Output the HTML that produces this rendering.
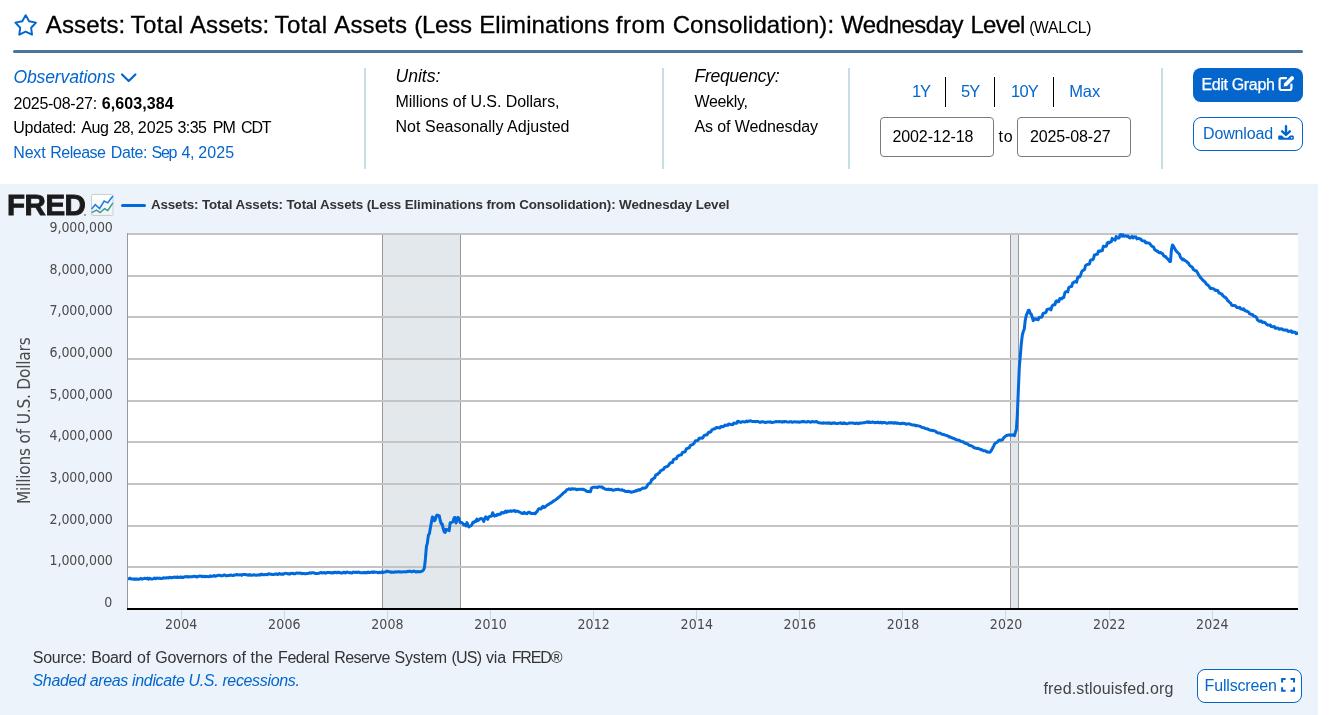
<!DOCTYPE html>
<html lang="en"><head><meta charset="utf-8"><title>Assets: Total Assets (WALCL) | FRED</title>
<style>
html,body{margin:0;padding:0;background:#fff;width:1344px;height:715px;overflow:hidden}
body{position:relative;font-family:"Liberation Sans",sans-serif}
.t{position:absolute;white-space:nowrap;margin:0;padding:0}
.abs{position:absolute}
.vd{position:absolute;top:68px;width:2px;height:101px;background:#c6dee4}
.bd{position:absolute;top:77px;width:1px;height:30px;background:#000}
.inp{position:absolute;top:117px;height:38px;width:112px;border:1px solid #7b7b7b;border-radius:4px;background:#fff}
#chartbg{position:absolute;left:0;top:184px;width:1318px;height:531px;background:#ecf3fb}
</style></head><body>
<svg class="abs" style="left:12.5px;top:12.8px" width="25.35" height="24.4" viewBox="0 0 26 25"><path d="M13.00 2.20 L16.47 8.53 L23.56 9.87 L18.61 15.12 L19.52 22.28 L13.00 19.20 L6.48 22.28 L7.39 15.12 L2.44 9.87 L9.53 8.53 Z" fill="none" stroke="#0466cc" stroke-width="2" stroke-linejoin="round"/></svg>
<div class="abs" style="left:13px;top:50px;width:1290px;height:3px;border-radius:1.5px;background:#4b7599"></div>
<svg class="abs" style="left:120.3px;top:71.5px" width="18" height="12" viewBox="0 0 18 12"><path d="M2 2.5 L8.7 9 L15.4 2.5" fill="none" stroke="#0466cc" stroke-width="2.2" stroke-linecap="round" stroke-linejoin="round"/></svg>
<div class="vd" style="left:364px"></div>
<div class="vd" style="left:662px"></div>
<div class="vd" style="left:848px"></div>
<div class="vd" style="left:1161px"></div>
<div class="bd" style="left:945px"></div>
<div class="bd" style="left:994px"></div>
<div class="bd" style="left:1053px"></div>
<div class="inp" style="left:880px"></div>
<div class="inp" style="left:1017px"></div>
<div class="abs" style="left:1193px;top:68px;width:110px;height:34px;border-radius:8px;background:#0466cc"></div>
<div class="abs" style="left:1193px;top:117px;width:108px;height:32px;border-radius:8px;border:1px solid #0466cc;background:#fff"></div>
<svg class="abs" style="left:1278px;top:75px" width="18" height="17" viewBox="0 0 18 17"><path d="M8 3.2 H3.6 Q1.6 3.2 1.6 5.2 V13 Q1.6 15 3.6 15 H11.4 Q13.4 15 13.4 13 V9.5" fill="none" stroke="#fff" stroke-width="2.2" stroke-linecap="round"/><path d="M6.3 8.2 L12.9 1.6 Q14 0.6 15.1 1.6 L15.6 2.1 Q16.6 3.2 15.6 4.3 L9 10.9 L5.6 11.6 Z" fill="#fff"/></svg>
<svg class="abs" style="left:1277px;top:125px" width="18" height="16" viewBox="0 0 18 16"><path d="M9 1.2 V9.5 M5.2 6.3 L9 10 L12.8 6.3" fill="none" stroke="#0466cc" stroke-width="2.4" stroke-linecap="round" stroke-linejoin="round"/><path d="M2.2 10.6 H5 L7.2 12.8 H10.8 L13 10.6 H15.8 Q16.8 10.6 16.8 11.6 V13.8 Q16.8 14.8 15.8 14.8 H2.2 Q1.2 14.8 1.2 13.8 V11.6 Q1.2 10.6 2.2 10.6 Z" fill="#0466cc"/><circle cx="14.6" cy="12.8" r="0.8" fill="#fff"/></svg>
<div id="chartbg"></div>
<div class="abs" style="left:83.6px;top:213.6px;width:2px;height:2px;border-radius:1px;background:#8a8a8a"></div>
<svg id="chart" width="1318" height="531" viewBox="0 184 1318 531" style="position:absolute;left:0;top:184px">
<rect x="128" y="234" width="1170" height="375" fill="#fff"/>
<rect x="383" y="234" width="77" height="375" fill="#e3e8ed"/>
<rect x="382" y="234" width="1" height="375" fill="#999"/>
<rect x="460" y="234" width="1" height="375" fill="#999"/>
<rect x="1011" y="234" width="7" height="375" fill="#e3e8ed"/>
<rect x="1010" y="234" width="1" height="375" fill="#999"/>
<rect x="1018" y="234" width="1" height="375" fill="#999"/>
<rect x="128" y="566" width="1170" height="2" fill="#c4c4c4"/>
<rect x="128" y="525" width="1170" height="2" fill="#c4c4c4"/>
<rect x="128" y="483" width="1170" height="2" fill="#c4c4c4"/>
<rect x="128" y="441" width="1170" height="2" fill="#c4c4c4"/>
<rect x="128" y="400" width="1170" height="2" fill="#c4c4c4"/>
<rect x="128" y="358" width="1170" height="2" fill="#c4c4c4"/>
<rect x="128" y="316" width="1170" height="2" fill="#c4c4c4"/>
<rect x="128" y="275" width="1170" height="2" fill="#c4c4c4"/>
<rect x="128" y="233" width="1170" height="2" fill="#c4c4c4"/>
<rect x="127" y="233" width="1" height="377" fill="#999"/>
<rect x="181" y="610" width="1" height="10" fill="#ccd6eb"/>
<rect x="284" y="610" width="1" height="10" fill="#ccd6eb"/>
<rect x="387" y="610" width="1" height="10" fill="#ccd6eb"/>
<rect x="490" y="610" width="1" height="10" fill="#ccd6eb"/>
<rect x="593" y="610" width="1" height="10" fill="#ccd6eb"/>
<rect x="696" y="610" width="1" height="10" fill="#ccd6eb"/>
<rect x="799" y="610" width="1" height="10" fill="#ccd6eb"/>
<rect x="902" y="610" width="1" height="10" fill="#ccd6eb"/>
<rect x="1005" y="610" width="1" height="10" fill="#ccd6eb"/>
<rect x="1109" y="610" width="1" height="10" fill="#ccd6eb"/>
<rect x="1212" y="610" width="1" height="10" fill="#ccd6eb"/>
<clipPath id="pc"><rect x="128" y="230" width="1170" height="380"/></clipPath>
<path clip-path="url(#pc)" d="M128.00 578.86 L128.99 578.84 L129.98 578.09 L130.96 579.05 L131.95 578.88 L132.94 579.04 L133.93 579.36 L134.92 578.85 L135.91 579.34 L136.89 578.89 L137.88 579.27 L138.87 579.23 L139.86 578.85 L140.85 578.39 L141.83 579.13 L142.82 579.01 L143.81 578.55 L144.80 578.18 L145.79 578.56 L146.78 578.74 L147.76 578.09 L148.75 579.08 L149.74 578.18 L150.73 578.78 L151.72 578.91 L152.70 578.89 L153.69 578.64 L154.68 578.04 L155.67 578.68 L156.66 578.20 L157.65 578.09 L158.63 578.34 L159.62 578.10 L160.61 578.58 L161.60 578.54 L162.59 578.33 L163.57 577.77 L164.56 578.00 L165.55 578.07 L166.54 577.73 L167.53 577.83 L168.52 577.95 L169.50 577.37 L170.49 577.43 L171.48 577.87 L172.47 577.47 L173.46 577.48 L174.44 577.05 L175.43 577.16 L176.42 577.59 L177.41 576.80 L178.40 577.68 L179.39 577.31 L180.37 576.90 L181.36 577.51 L182.35 577.11 L183.34 577.56 L184.33 576.85 L185.31 576.71 L186.30 576.88 L187.29 576.52 L188.28 577.10 L189.27 576.65 L190.26 576.72 L191.24 576.71 L192.23 576.81 L193.22 576.36 L194.21 576.21 L195.20 576.69 L196.18 576.45 L197.17 577.07 L198.16 576.34 L199.15 576.36 L200.14 575.96 L201.12 576.11 L202.11 576.66 L203.10 576.51 L204.09 576.17 L205.08 576.84 L206.07 576.33 L207.05 576.61 L208.04 576.63 L209.03 576.64 L210.02 575.83 L211.01 576.47 L211.99 576.30 L212.98 576.10 L213.97 575.53 L214.96 576.34 L215.95 575.90 L216.94 575.74 L217.92 575.34 L218.91 575.36 L219.90 575.26 L220.89 575.85 L221.88 575.66 L222.86 575.67 L223.85 575.06 L224.84 574.93 L225.83 575.76 L226.82 575.69 L227.81 575.58 L228.79 575.53 L229.78 575.22 L230.77 575.06 L231.76 575.36 L232.75 575.60 L233.73 575.12 L234.72 575.16 L235.71 574.92 L236.70 574.49 L237.69 574.75 L238.68 574.93 L239.66 574.80 L240.65 574.72 L241.64 575.37 L242.63 574.44 L243.62 574.55 L244.60 574.43 L245.59 574.50 L246.58 574.92 L247.57 574.89 L248.56 575.20 L249.55 574.60 L250.53 575.20 L251.52 575.18 L252.51 575.01 L253.50 575.04 L254.49 574.83 L255.47 575.13 L256.46 575.17 L257.45 574.98 L258.44 575.02 L259.43 574.71 L260.42 575.05 L261.40 574.10 L262.39 574.35 L263.38 574.82 L264.37 574.68 L265.36 574.55 L266.34 574.50 L267.33 574.73 L268.32 573.91 L269.31 573.73 L270.30 574.27 L271.29 574.22 L272.27 574.62 L273.26 574.57 L274.25 574.28 L275.24 574.33 L276.23 573.69 L277.21 574.39 L278.20 574.51 L279.19 573.47 L280.18 573.90 L281.17 574.28 L282.16 573.82 L283.14 574.35 L284.13 573.78 L285.12 573.26 L286.11 573.37 L287.10 573.53 L288.08 573.98 L289.07 573.84 L290.06 574.04 L291.05 573.36 L292.04 573.60 L293.03 573.31 L294.01 573.78 L295.00 573.87 L295.99 573.21 L296.98 573.01 L297.97 573.13 L298.95 573.16 L299.94 573.12 L300.93 573.19 L301.92 573.72 L302.91 573.39 L303.90 573.54 L304.88 573.87 L305.87 573.85 L306.86 573.56 L307.85 573.56 L308.84 573.07 L309.82 572.76 L310.81 573.29 L311.80 572.74 L312.79 572.66 L313.78 572.67 L314.77 573.29 L315.75 573.42 L316.74 573.39 L317.73 573.40 L318.72 573.37 L319.71 572.89 L320.69 572.56 L321.68 572.61 L322.67 572.97 L323.66 572.76 L324.65 572.58 L325.64 573.33 L326.62 572.68 L327.61 572.39 L328.60 572.50 L329.59 572.51 L330.58 572.78 L331.56 573.09 L332.55 572.40 L333.54 572.87 L334.53 572.34 L335.52 572.13 L336.51 572.74 L337.49 572.73 L338.48 572.13 L339.47 572.37 L340.46 572.96 L341.45 573.00 L342.43 572.97 L343.42 572.15 L344.41 572.25 L345.40 572.96 L346.39 572.22 L347.38 572.05 L348.36 572.40 L349.35 572.72 L350.34 572.50 L351.33 572.95 L352.32 573.07 L353.30 572.03 L354.29 572.37 L355.28 572.50 L356.27 572.06 L357.26 572.59 L358.24 572.11 L359.23 572.16 L360.22 572.82 L361.21 572.77 L362.20 572.72 L363.19 572.76 L364.17 572.37 L365.16 572.71 L366.15 572.52 L367.14 572.82 L368.13 571.96 L369.11 572.54 L370.10 572.42 L371.09 572.26 L372.08 571.90 L373.07 572.41 L374.06 571.86 L375.04 572.29 L376.03 572.24 L377.02 572.24 L378.01 572.77 L379.00 572.30 L379.98 572.56 L380.97 572.74 L381.96 571.86 L382.95 572.53 L383.94 572.18 L384.93 571.90 L385.91 572.06 L386.90 571.06 L387.89 571.38 L388.88 571.86 L389.87 571.64 L390.85 572.40 L391.84 571.94 L392.83 572.30 L393.82 572.30 L394.81 571.79 L395.80 572.10 L396.78 572.04 L397.77 571.79 L398.76 571.60 L399.75 572.07 L400.74 571.86 L401.72 571.94 L402.71 571.90 L403.70 571.68 L404.69 571.90 L405.68 571.79 L406.67 571.81 L407.65 571.28 L408.64 571.51 L409.63 571.29 L410.62 571.18 L411.61 571.89 L412.59 571.54 L413.58 571.09 L414.57 571.17 L415.56 571.90 L416.55 571.89 L417.54 571.51 L418.52 571.88 L419.51 571.67 L420.50 571.82 L421.49 571.14 L422.48 570.98 L423.46 570.03 L424.45 567.67 L425.44 558.48 L426.43 546.42 L427.42 542.93 L428.41 535.06 L429.39 533.77 L430.38 527.89 L431.37 522.52 L432.36 516.97 L433.35 517.76 L434.33 520.84 L435.32 519.67 L436.31 515.84 L437.30 515.03 L438.29 516.08 L439.28 515.75 L440.26 520.82 L441.25 523.67 L442.24 523.89 L443.23 528.82 L444.22 531.89 L445.20 532.36 L446.19 529.24 L447.18 529.92 L448.17 529.77 L449.16 530.66 L450.15 522.97 L451.13 522.51 L452.12 522.19 L453.11 521.68 L454.10 517.95 L455.09 517.45 L456.07 522.98 L457.06 518.86 L458.05 517.45 L459.04 518.77 L460.03 522.37 L461.02 522.13 L462.00 522.80 L462.99 523.61 L463.98 525.06 L464.97 524.48 L465.96 525.95 L466.94 522.59 L467.93 525.17 L468.92 526.89 L469.91 526.15 L470.90 525.80 L471.89 524.78 L472.87 522.36 L473.86 522.50 L474.85 521.36 L475.84 521.43 L476.83 519.18 L477.81 520.63 L478.80 520.00 L479.79 519.08 L480.78 518.46 L481.77 518.90 L482.76 519.05 L483.74 521.51 L484.73 518.43 L485.72 516.87 L486.71 518.23 L487.70 519.30 L488.68 517.12 L489.67 516.49 L490.66 516.34 L491.65 516.01 L492.64 512.69 L493.62 514.77 L494.61 516.05 L495.60 515.25 L496.59 515.42 L497.58 514.28 L498.57 514.68 L499.55 513.99 L500.54 514.16 L501.53 512.58 L502.52 512.66 L503.51 513.06 L504.49 512.28 L505.48 511.17 L506.47 512.43 L507.46 511.02 L508.45 511.62 L509.44 511.40 L510.42 510.68 L511.41 511.38 L512.40 511.07 L513.39 510.84 L514.38 510.41 L515.36 511.68 L516.35 510.89 L517.34 511.23 L518.33 511.46 L519.32 512.09 L520.31 512.40 L521.29 513.15 L522.28 513.22 L523.27 513.54 L524.26 512.34 L525.25 513.27 L526.23 513.47 L527.22 513.65 L528.21 512.30 L529.20 512.28 L530.19 512.68 L531.18 513.43 L532.16 513.54 L533.15 513.48 L534.14 513.21 L535.13 513.79 L536.12 512.33 L537.10 511.73 L538.09 509.51 L539.08 508.55 L540.07 508.91 L541.06 509.05 L542.05 507.31 L543.03 506.27 L544.02 507.48 L545.01 507.16 L546.00 506.10 L546.99 505.33 L547.97 504.63 L548.96 504.25 L549.95 503.27 L550.94 503.09 L551.93 502.16 L552.92 501.66 L553.90 500.67 L554.89 500.35 L555.88 499.70 L556.87 498.74 L557.86 498.13 L558.84 497.10 L559.83 496.48 L560.82 495.39 L561.81 494.57 L562.80 493.60 L563.79 492.52 L564.77 492.10 L565.76 491.26 L566.75 489.69 L567.74 489.61 L568.73 488.80 L569.71 488.93 L570.70 489.57 L571.69 488.82 L572.68 488.80 L573.67 489.10 L574.66 489.04 L575.64 489.00 L576.63 489.71 L577.62 489.37 L578.61 489.43 L579.60 489.14 L580.58 489.21 L581.57 489.23 L582.56 489.51 L583.55 489.35 L584.54 489.97 L585.53 490.37 L586.51 491.24 L587.50 491.62 L588.49 491.60 L589.48 491.47 L590.47 491.81 L591.45 488.03 L592.44 487.40 L593.43 487.28 L594.42 487.23 L595.41 487.12 L596.40 487.26 L597.38 487.70 L598.37 486.85 L599.36 486.85 L600.35 487.04 L601.34 486.95 L602.32 487.08 L603.31 488.34 L604.30 488.32 L605.29 489.11 L606.28 489.44 L607.27 489.41 L608.25 489.10 L609.24 489.78 L610.23 489.40 L611.22 489.31 L612.21 489.95 L613.19 490.22 L614.18 490.09 L615.17 489.71 L616.16 489.45 L617.15 489.42 L618.14 489.22 L619.12 489.67 L620.11 489.86 L621.10 490.02 L622.09 489.79 L623.08 490.49 L624.06 490.49 L625.05 491.31 L626.04 491.52 L627.03 491.51 L628.02 491.30 L629.01 491.47 L629.99 491.68 L630.98 492.25 L631.97 491.95 L632.96 491.74 L633.95 491.47 L634.93 491.55 L635.92 490.50 L636.91 490.93 L637.90 489.88 L638.89 489.62 L639.88 490.17 L640.86 489.35 L641.85 488.62 L642.84 488.10 L643.83 488.24 L644.82 488.05 L645.80 487.81 L646.79 486.58 L647.78 484.62 L648.77 483.66 L649.76 483.30 L650.74 482.30 L651.73 479.46 L652.72 479.40 L653.71 478.20 L654.70 477.90 L655.69 475.10 L656.67 474.55 L657.66 474.23 L658.65 473.01 L659.64 472.64 L660.63 470.67 L661.61 470.36 L662.60 469.70 L663.59 469.40 L664.58 467.36 L665.57 467.15 L666.56 466.68 L667.54 466.29 L668.53 465.46 L669.52 463.82 L670.51 462.83 L671.50 462.35 L672.48 462.46 L673.47 459.59 L674.46 459.31 L675.45 458.74 L676.44 458.73 L677.43 456.40 L678.41 455.97 L679.40 455.13 L680.39 455.01 L681.38 454.79 L682.37 452.52 L683.35 452.24 L684.34 452.05 L685.33 451.60 L686.32 448.77 L687.31 448.73 L688.30 447.79 L689.28 447.82 L690.27 445.53 L691.26 444.90 L692.25 444.69 L693.24 444.13 L694.22 443.24 L695.21 441.01 L696.20 440.72 L697.19 440.62 L698.18 440.21 L699.17 438.15 L700.15 438.24 L701.14 437.91 L702.13 438.18 L703.12 437.43 L704.11 435.51 L705.09 434.99 L706.08 434.91 L707.07 434.88 L708.06 432.93 L709.05 431.97 L710.04 432.23 L711.02 431.68 L712.01 429.64 L713.00 429.38 L713.99 428.92 L714.98 428.87 L715.96 427.67 L716.95 427.48 L717.94 427.84 L718.93 427.72 L719.92 427.94 L720.91 426.39 L721.89 426.58 L722.88 426.75 L723.87 426.41 L724.86 425.06 L725.85 425.45 L726.83 425.12 L727.82 425.19 L728.81 423.95 L729.80 424.36 L730.79 424.47 L731.78 424.65 L732.76 424.61 L733.75 423.11 L734.74 423.14 L735.73 423.29 L736.72 423.20 L737.70 421.28 L738.69 421.55 L739.68 422.14 L740.67 422.43 L741.66 421.83 L742.65 421.86 L743.63 421.80 L744.62 421.95 L745.61 421.68 L746.60 421.01 L747.59 421.63 L748.57 421.22 L749.56 421.03 L750.55 420.75 L751.54 421.30 L752.53 421.40 L753.52 421.56 L754.50 421.58 L755.49 421.69 L756.48 421.41 L757.47 421.54 L758.46 421.57 L759.44 422.32 L760.43 422.35 L761.42 421.83 L762.41 421.72 L763.40 422.12 L764.39 422.06 L765.37 422.60 L766.36 422.31 L767.35 421.91 L768.34 422.04 L769.33 422.01 L770.31 421.86 L771.30 422.40 L772.29 422.46 L773.28 422.37 L774.27 422.00 L775.26 421.81 L776.24 421.54 L777.23 421.66 L778.22 421.67 L779.21 421.51 L780.20 421.75 L781.18 421.68 L782.17 422.12 L783.16 421.51 L784.15 421.98 L785.14 421.41 L786.12 421.65 L787.11 421.95 L788.10 422.11 L789.09 422.01 L790.08 421.70 L791.07 421.66 L792.05 422.16 L793.04 422.20 L794.03 421.84 L795.02 421.80 L796.01 421.97 L796.99 422.12 L797.98 421.81 L798.97 422.31 L799.96 422.08 L800.95 421.94 L801.94 421.51 L802.92 421.76 L803.91 421.54 L804.90 421.87 L805.89 422.06 L806.88 422.04 L807.86 421.43 L808.85 421.63 L809.84 421.95 L810.83 422.17 L811.82 421.76 L812.81 421.60 L813.79 421.80 L814.78 421.92 L815.77 421.57 L816.76 421.61 L817.75 422.44 L818.73 422.86 L819.72 422.86 L820.71 423.04 L821.70 422.94 L822.69 423.35 L823.68 422.86 L824.66 422.91 L825.65 423.11 L826.64 423.37 L827.63 422.74 L828.62 423.30 L829.60 422.88 L830.59 423.38 L831.58 423.40 L832.57 422.96 L833.56 423.35 L834.55 422.81 L835.53 423.20 L836.52 423.46 L837.51 423.44 L838.50 423.29 L839.49 423.09 L840.47 422.86 L841.46 423.54 L842.45 423.34 L843.44 423.50 L844.43 422.87 L845.42 423.57 L846.40 423.65 L847.39 423.65 L848.38 423.38 L849.37 422.97 L850.36 422.99 L851.34 423.12 L852.33 422.91 L853.32 422.97 L854.31 423.48 L855.30 423.61 L856.29 422.99 L857.27 423.16 L858.26 423.76 L859.25 423.12 L860.24 423.18 L861.23 423.01 L862.21 422.88 L863.20 422.84 L864.19 422.81 L865.18 422.41 L866.17 422.26 L867.16 421.79 L868.14 422.51 L869.13 421.84 L870.12 422.50 L871.11 422.40 L872.10 422.04 L873.08 422.07 L874.07 422.42 L875.06 422.77 L876.05 422.45 L877.04 422.56 L878.03 422.13 L879.01 422.77 L880.00 422.65 L880.99 422.24 L881.98 422.99 L882.97 422.70 L883.95 422.40 L884.94 422.46 L885.93 423.10 L886.92 423.13 L887.91 423.14 L888.90 422.45 L889.88 423.03 L890.87 422.65 L891.86 422.56 L892.85 423.05 L893.84 423.14 L894.82 422.62 L895.81 422.97 L896.80 423.34 L897.79 423.04 L898.78 423.44 L899.77 423.55 L900.75 423.85 L901.74 423.29 L902.73 423.23 L903.72 423.54 L904.71 423.35 L905.69 424.19 L906.68 424.09 L907.67 423.96 L908.66 423.65 L909.65 423.86 L910.64 424.55 L911.62 424.87 L912.61 424.93 L913.60 425.09 L914.59 424.94 L915.58 425.77 L916.56 425.47 L917.55 425.73 L918.54 425.87 L919.53 426.16 L920.52 426.61 L921.51 427.16 L922.49 427.49 L923.48 427.77 L924.47 427.74 L925.46 428.64 L926.45 428.86 L927.43 428.71 L928.42 429.45 L929.41 429.92 L930.40 430.27 L931.39 430.15 L932.38 430.66 L933.36 430.43 L934.35 430.87 L935.34 431.15 L936.33 432.12 L937.32 432.64 L938.30 433.00 L939.29 433.04 L940.28 433.23 L941.27 433.82 L942.26 434.36 L943.24 434.58 L944.23 434.78 L945.22 435.10 L946.21 435.41 L947.20 435.70 L948.19 436.22 L949.17 437.04 L950.16 436.82 L951.15 437.65 L952.14 437.79 L953.13 438.32 L954.11 438.39 L955.10 439.21 L956.09 439.55 L957.08 439.92 L958.07 440.37 L959.06 440.13 L960.04 440.76 L961.03 441.34 L962.02 441.66 L963.01 441.64 L964.00 442.53 L964.98 443.25 L965.97 443.26 L966.96 443.88 L967.95 444.09 L968.94 445.32 L969.93 445.51 L970.91 445.71 L971.90 446.18 L972.89 446.61 L973.88 447.67 L974.87 447.79 L975.85 448.27 L976.84 448.54 L977.83 448.21 L978.82 448.87 L979.81 448.91 L980.80 449.71 L981.78 449.62 L982.77 450.30 L983.76 450.79 L984.75 450.69 L985.74 450.88 L986.72 451.91 L987.71 451.83 L988.70 452.14 L989.69 452.19 L990.68 451.53 L991.67 449.88 L992.65 448.00 L993.64 446.08 L994.63 443.92 L995.62 443.00 L996.61 442.50 L997.59 441.78 L998.58 440.64 L999.57 440.06 L1000.56 440.28 L1001.55 439.98 L1002.54 439.87 L1003.52 438.10 L1004.51 437.03 L1005.50 436.16 L1006.49 435.54 L1007.48 435.21 L1008.46 435.00 L1009.45 434.87 L1010.44 435.28 L1011.43 435.17 L1012.42 434.67 L1013.41 435.33 L1014.39 435.67 L1015.38 432.33 L1016.37 429.42 L1017.36 414.42 L1018.35 390.25 L1019.33 366.92 L1020.32 355.67 L1021.31 343.58 L1022.30 335.25 L1023.29 331.50 L1024.28 329.00 L1025.26 320.25 L1026.25 315.67 L1027.24 313.17 L1028.23 310.46 L1029.22 310.25 L1030.20 313.38 L1031.19 314.00 L1032.18 316.92 L1033.17 320.67 L1034.16 319.00 L1035.15 318.79 L1036.13 319.46 L1037.12 319.03 L1038.11 319.84 L1039.10 317.55 L1040.09 317.34 L1041.07 317.33 L1042.06 316.95 L1043.05 313.47 L1044.04 313.08 L1045.03 312.78 L1046.02 312.32 L1047.00 309.58 L1047.99 309.10 L1048.98 308.89 L1049.97 308.79 L1050.96 309.84 L1051.94 306.41 L1052.93 305.06 L1053.92 304.66 L1054.91 304.83 L1055.90 301.26 L1056.89 300.73 L1057.87 301.85 L1058.86 301.53 L1059.85 298.55 L1060.84 298.67 L1061.83 298.83 L1062.81 297.42 L1063.80 297.46 L1064.79 292.97 L1065.78 291.84 L1066.77 291.64 L1067.76 291.88 L1068.74 287.67 L1069.73 286.94 L1070.72 286.60 L1071.71 286.47 L1072.70 282.90 L1073.68 282.55 L1074.67 281.78 L1075.66 281.40 L1076.65 282.19 L1077.64 277.69 L1078.62 276.82 L1079.61 276.94 L1080.60 275.36 L1081.59 271.88 L1082.58 270.67 L1083.57 270.14 L1084.55 269.50 L1085.54 265.62 L1086.53 264.89 L1087.52 264.47 L1088.51 264.36 L1089.49 263.85 L1090.48 260.21 L1091.47 259.84 L1092.46 259.87 L1093.45 258.79 L1094.44 254.90 L1095.42 254.81 L1096.41 254.26 L1097.40 254.35 L1098.39 251.12 L1099.38 251.51 L1100.36 250.87 L1101.35 250.92 L1102.34 250.59 L1103.33 246.27 L1104.32 246.66 L1105.31 246.29 L1106.29 246.20 L1107.28 243.07 L1108.27 242.29 L1109.26 242.86 L1110.25 241.95 L1111.23 241.81 L1112.22 238.38 L1113.21 239.50 L1114.20 239.49 L1115.19 240.22 L1116.18 236.47 L1117.16 238.01 L1118.15 238.05 L1119.14 237.94 L1120.13 234.63 L1121.12 234.59 L1122.10 236.12 L1123.09 234.73 L1124.08 236.30 L1125.07 235.95 L1126.06 235.94 L1127.05 236.38 L1128.03 235.93 L1129.02 237.47 L1130.01 238.01 L1131.00 237.27 L1131.99 236.42 L1132.97 237.90 L1133.96 236.83 L1134.95 237.22 L1135.94 236.82 L1136.93 238.92 L1137.92 238.66 L1138.90 238.37 L1139.89 238.96 L1140.88 239.02 L1141.87 240.61 L1142.86 240.82 L1143.84 241.10 L1144.83 241.12 L1145.82 242.96 L1146.81 242.59 L1147.80 242.91 L1148.79 242.90 L1149.77 243.53 L1150.76 244.94 L1151.75 246.11 L1152.74 246.60 L1153.73 247.25 L1154.71 249.83 L1155.70 250.22 L1156.69 251.16 L1157.68 251.01 L1158.67 252.37 L1159.66 252.78 L1160.64 252.59 L1161.63 253.26 L1162.62 253.82 L1163.61 255.61 L1164.60 256.48 L1165.58 256.55 L1166.57 257.95 L1167.56 258.85 L1168.55 259.75 L1169.54 261.50 L1170.53 261.42 L1171.51 249.04 L1172.50 245.08 L1173.49 246.25 L1174.48 248.15 L1175.47 250.04 L1176.45 251.20 L1177.44 252.40 L1178.43 253.16 L1179.42 254.22 L1180.41 257.16 L1181.40 258.45 L1182.38 259.69 L1183.37 259.01 L1184.36 260.17 L1185.35 260.79 L1186.34 261.20 L1187.32 262.38 L1188.31 263.00 L1189.30 264.82 L1190.29 265.92 L1191.28 266.66 L1192.27 267.12 L1193.25 269.41 L1194.24 269.94 L1195.23 270.72 L1196.22 270.65 L1197.21 272.19 L1198.19 274.14 L1199.18 275.56 L1200.17 277.23 L1201.16 278.06 L1202.15 279.54 L1203.14 280.60 L1204.12 281.29 L1205.11 282.09 L1206.10 283.90 L1207.09 284.50 L1208.08 285.32 L1209.06 286.31 L1210.05 288.07 L1211.04 288.50 L1212.03 288.33 L1213.02 288.67 L1214.01 288.92 L1214.99 290.24 L1215.98 290.47 L1216.97 290.24 L1217.96 290.83 L1218.95 293.00 L1219.93 292.98 L1220.92 293.98 L1221.91 294.01 L1222.90 295.94 L1223.89 296.47 L1224.88 297.39 L1225.86 297.74 L1226.85 299.05 L1227.84 300.90 L1228.83 301.38 L1229.82 302.63 L1230.80 303.33 L1231.79 305.21 L1232.78 305.42 L1233.77 305.47 L1234.76 305.53 L1235.74 306.10 L1236.73 307.51 L1237.72 307.59 L1238.71 307.83 L1239.70 307.35 L1240.69 308.92 L1241.67 308.97 L1242.66 309.45 L1243.65 308.92 L1244.64 310.41 L1245.63 310.93 L1246.61 311.08 L1247.60 311.63 L1248.59 312.11 L1249.58 313.89 L1250.57 314.08 L1251.56 314.47 L1252.54 314.56 L1253.53 315.98 L1254.52 316.30 L1255.51 316.48 L1256.50 317.39 L1257.48 319.91 L1258.47 320.51 L1259.46 321.39 L1260.45 321.01 L1261.44 321.06 L1262.43 322.52 L1263.41 322.14 L1264.40 322.19 L1265.39 322.92 L1266.38 324.13 L1267.37 324.95 L1268.35 324.98 L1269.34 325.22 L1270.33 325.07 L1271.32 326.55 L1272.31 326.66 L1273.30 326.81 L1274.28 326.42 L1275.27 328.22 L1276.26 328.30 L1277.25 327.90 L1278.24 328.10 L1279.22 329.29 L1280.21 329.13 L1281.20 328.74 L1282.19 328.88 L1283.18 330.03 L1284.17 330.10 L1285.15 329.96 L1286.14 330.24 L1287.13 330.03 L1288.12 331.38 L1289.11 331.38 L1290.09 331.26 L1291.08 330.81 L1292.07 332.49 L1293.06 331.82 L1294.05 332.23 L1295.04 332.22 L1296.02 333.62 L1297.01 333.11 L1298.00 333.53" fill="none" stroke="#0069dc" stroke-width="3" stroke-linejoin="round" stroke-linecap="round"/>
<rect x="127" y="608" width="1171" height="2" fill="#000"/>
</svg>
<svg class="abs" style="left:91px;top:194px" width="23" height="22" viewBox="0 0 23 22"><defs><linearGradient id="ig" x1="0" y1="0" x2="0" y2="1"><stop offset="0" stop-color="#fff"/><stop offset="1" stop-color="#f1f2f3"/></linearGradient></defs><rect x="0.5" y="0.5" width="21.5" height="21" rx="1.5" fill="url(#ig)" stroke="#c9ced3"/><path d="M0.7 15 L4.3 10.6 L8.6 14.5 L13.2 7 L16.8 8.8 L21.9 2" fill="none" stroke="#1e7be0" stroke-width="1.5"/><path d="M0.7 18.6 L5.5 16.2 L9.1 18.6 L13.5 14.75 L16.8 16.5 L21.9 8.8" fill="none" stroke="#3a9e96" stroke-width="1.5"/></svg>
<div class="abs" style="left:121px;top:204.3px;width:25px;height:3px;border-radius:1.5px;background:#0069dc"></div>
<div class="abs" style="left:1197px;top:669px;width:103px;height:32px;border-radius:8px;border:1px solid #0466cc;background:#fff"></div>
<svg class="abs" style="left:1281px;top:678px" width="14.2" height="13.8" viewBox="0 0 15 15"><path d="M1 5 V1.2 H4.8 M10.2 1.2 H14 V5 M14 10 V13.8 H10.2 M4.8 13.8 H1 V10" fill="none" stroke="#0466cc" stroke-width="2.2"/></svg>
<div class="t" id="ytitle" style="left:0;top:0;font:17.2px/20px 'DejaVu Sans Condensed','DejaVu Sans',sans-serif;color:#4a4a4a;transform-origin:0 0;transform:translate(14.3px,504px) rotate(-90deg);letter-spacing:-0.24px">Millions of U.S. Dollars</div>
<h1 style="margin:0;height:0;font-size:0">
<span id="title0" class="t" style="left:45.78px;top:8.38px;font:normal 400 24px/34px 'Liberation Sans', sans-serif;color:#000;letter-spacing:0.134px;-webkit-text-stroke:0.3px #000;">Assets:</span>
<span id="title1" class="t" style="left:130.48px;top:8.38px;font:normal 400 24px/34px 'Liberation Sans', sans-serif;color:#000;letter-spacing:0.467px;-webkit-text-stroke:0.3px #000;">Total</span>
<span id="title2" class="t" style="left:189.98px;top:8.38px;font:normal 400 24px/34px 'Liberation Sans', sans-serif;color:#000;letter-spacing:0.091px;-webkit-text-stroke:0.3px #000;">Assets:</span>
<span id="title3" class="t" style="left:274.48px;top:8.38px;font:normal 400 24px/34px 'Liberation Sans', sans-serif;color:#000;letter-spacing:0.507px;-webkit-text-stroke:0.3px #000;">Total</span>
<span id="title4" class="t" style="left:334.28px;top:8.38px;font:normal 400 24px/34px 'Liberation Sans', sans-serif;color:#000;letter-spacing:0.118px;-webkit-text-stroke:0.3px #000;">Assets</span>
<span id="title5" class="t" style="left:414.28px;top:8.38px;font:normal 400 24px/34px 'Liberation Sans', sans-serif;color:#000;letter-spacing:-0.250px;-webkit-text-stroke:0.3px #000;">(Less</span>
<span id="title6" class="t" style="left:479.28px;top:8.38px;font:normal 400 24px/34px 'Liberation Sans', sans-serif;color:#000;letter-spacing:0.054px;-webkit-text-stroke:0.3px #000;">Eliminations</span>
<span id="title7" class="t" style="left:615.78px;top:8.38px;font:normal 400 24px/34px 'Liberation Sans', sans-serif;color:#000;letter-spacing:0.485px;-webkit-text-stroke:0.3px #000;">from</span>
<span id="title8" class="t" style="left:672.68px;top:8.38px;font:normal 400 24px/34px 'Liberation Sans', sans-serif;color:#000;letter-spacing:0.096px;-webkit-text-stroke:0.3px #000;">Consolidation):</span>
<span id="title9" class="t" style="left:841.08px;top:8.38px;font:normal 400 24px/34px 'Liberation Sans', sans-serif;color:#000;letter-spacing:-0.475px;-webkit-text-stroke:0.3px #000;">Wednesday</span>
<span id="title10" class="t" style="left:970.38px;top:8.38px;font:normal 400 24px/34px 'Liberation Sans', sans-serif;color:#000;letter-spacing:-0.607px;-webkit-text-stroke:0.3px #000;">Level</span>
</h1>
<div id="sid" class="t" style="left:1029.13px;top:16.99px;font:normal 400 15.6px/22px 'Liberation Sans', sans-serif;color:#000;letter-spacing:-0.216px;">(WALCL)</div>
<div id="obs" class="t" style="left:13.47px;top:64.90px;font:italic 400 17.6px/25px 'Liberation Sans', sans-serif;color:#0466cc;letter-spacing:-0.175px;">Observations</div>
<div id="val" class="t" style="left:13.52px;top:91.76px;font:normal 400 16px/23px 'Liberation Sans', sans-serif;color:#000;letter-spacing:-0.267px;">2025-08-27:</div>
<div id="valb" class="t" style="left:101.72px;top:91.76px;font:normal 700 16px/23px 'Liberation Sans', sans-serif;color:#000;letter-spacing:0.086px;">6,603,384</div>
<p style="margin:0;height:0;font-size:0">
<span id="upd0" class="t" style="left:13.27px;top:116.46px;font:normal 400 16px/23px 'Liberation Sans', sans-serif;color:#000;letter-spacing:-0.241px;">Updated:</span>
<span id="upd1" class="t" style="left:81.22px;top:116.46px;font:normal 400 16px/23px 'Liberation Sans', sans-serif;color:#000;letter-spacing:-0.370px;">Aug</span>
<span id="upd2" class="t" style="left:113.27px;top:116.46px;font:normal 400 16px/23px 'Liberation Sans', sans-serif;color:#000;letter-spacing:-0.647px;">28,</span>
<span id="upd3" class="t" style="left:137.82px;top:116.46px;font:normal 400 16px/23px 'Liberation Sans', sans-serif;color:#000;letter-spacing:-0.058px;">2025</span>
<span id="upd4" class="t" style="left:177.42px;top:116.46px;font:normal 400 16px/23px 'Liberation Sans', sans-serif;color:#000;letter-spacing:-0.520px;">3:35</span>
<span id="upd5" class="t" style="left:212.82px;top:116.46px;font:normal 400 16px/23px 'Liberation Sans', sans-serif;color:#000;letter-spacing:-1.070px;">PM</span>
<span id="upd6" class="t" style="left:241.02px;top:116.46px;font:normal 400 16px/23px 'Liberation Sans', sans-serif;color:#000;letter-spacing:-1.144px;">CDT</span>
</p>
<p style="margin:0;height:0;font-size:0">
<span id="nrd0" class="t" style="left:13.27px;top:140.96px;font:normal 400 16px/23px 'Liberation Sans', sans-serif;color:#0466cc;letter-spacing:-0.174px;">Next</span>
<span id="nrd1" class="t" style="left:50.32px;top:140.96px;font:normal 400 16px/23px 'Liberation Sans', sans-serif;color:#0466cc;letter-spacing:-0.506px;">Release</span>
<span id="nrd2" class="t" style="left:110.77px;top:140.96px;font:normal 400 16px/23px 'Liberation Sans', sans-serif;color:#0466cc;letter-spacing:-0.368px;">Date:</span>
<span id="nrd3" class="t" style="left:151.42px;top:140.96px;font:normal 400 16px/23px 'Liberation Sans', sans-serif;color:#0466cc;letter-spacing:-1.203px;">Sep</span>
<span id="nrd4" class="t" style="left:181.62px;top:140.96px;font:normal 400 16px/23px 'Liberation Sans', sans-serif;color:#0466cc;letter-spacing:-0.492px;">4,</span>
<span id="nrd5" class="t" style="left:198.27px;top:140.96px;font:normal 400 16px/23px 'Liberation Sans', sans-serif;color:#0466cc;letter-spacing:0.092px;">2025</span>
</p>
<div id="units" class="t" style="left:395.47px;top:64.40px;font:italic 400 17.6px/25px 'Liberation Sans', sans-serif;color:#000;letter-spacing:-0.030px;">Units:</div>
<div id="u1" class="t" style="left:395.52px;top:89.96px;font:normal 400 16px/23px 'Liberation Sans', sans-serif;color:#000;letter-spacing:-0.057px;">Millions of U.S. Dollars,</div>
<div id="u2" class="t" style="left:395.52px;top:115.46px;font:normal 400 16px/23px 'Liberation Sans', sans-serif;color:#000;letter-spacing:0.022px;">Not Seasonally Adjusted</div>
<div id="freq" class="t" style="left:694.47px;top:64.40px;font:italic 400 17.6px/25px 'Liberation Sans', sans-serif;color:#000;letter-spacing:-0.321px;">Frequency:</div>
<div id="f1" class="t" style="left:694.52px;top:89.96px;font:normal 400 16px/23px 'Liberation Sans', sans-serif;color:#000;letter-spacing:-0.352px;">Weekly,</div>
<div id="f2" class="t" style="left:694.52px;top:115.46px;font:normal 400 16px/23px 'Liberation Sans', sans-serif;color:#000;letter-spacing:-0.110px;">As of Wednesday</div>
<div id="r1" class="t" style="left:912.00px;top:79.28px;font:normal 400 16.5px/24px 'Liberation Sans', sans-serif;color:#0466cc;letter-spacing:-1.099px;">1Y</div>
<div id="r5" class="t" style="left:961.00px;top:79.28px;font:normal 400 16.5px/24px 'Liberation Sans', sans-serif;color:#0466cc;letter-spacing:-0.849px;">5Y</div>
<div id="r10" class="t" style="left:1011.00px;top:79.28px;font:normal 400 16.5px/24px 'Liberation Sans', sans-serif;color:#0466cc;letter-spacing:-0.790px;">10Y</div>
<div id="rmax" class="t" style="left:1069.26px;top:79.28px;font:normal 400 16.5px/24px 'Liberation Sans', sans-serif;color:#0466cc;letter-spacing:-0.144px;">Max</div>
<div id="d1" class="t" style="left:892.52px;top:124.96px;font:normal 400 16px/23px 'Liberation Sans', sans-serif;color:#000;letter-spacing:-0.113px;">2002-12-18</div>
<div id="to" class="t" style="left:998.52px;top:124.96px;font:normal 400 16px/23px 'Liberation Sans', sans-serif;color:#000;letter-spacing:0.808px;">to</div>
<div id="d2" class="t" style="left:1030.02px;top:124.96px;font:normal 400 16px/23px 'Liberation Sans', sans-serif;color:#000;letter-spacing:-0.138px;">2025-08-27</div>
<div id="eg" class="t" style="left:1201.52px;top:73.16px;font:normal 400 16px/23px 'Liberation Sans', sans-serif;color:#fff;letter-spacing:-0.352px;-webkit-text-stroke:0.25px #fff;">Edit Graph</div>
<div id="dl" class="t" style="left:1203.02px;top:121.71px;font:normal 400 16px/23px 'Liberation Sans', sans-serif;color:#0466cc;letter-spacing:-0.150px;">Download</div>
<div id="leg" class="t" style="left:150.90px;top:195.26px;font:normal 700 13.4px/19px 'Liberation Sans', sans-serif;color:#333;letter-spacing:-0.126px;">Assets: Total Assets: Total Assets (Less Eliminations from Consolidation): Wednesday Level</div>
<p style="margin:0;height:0;font-size:0">
<span id="src0" class="t" style="left:32.82px;top:645.96px;font:normal 400 16px/23px 'Liberation Sans', sans-serif;color:#333;letter-spacing:-0.297px;">Source:</span>
<span id="src1" class="t" style="left:91.22px;top:645.96px;font:normal 400 16px/23px 'Liberation Sans', sans-serif;color:#333;letter-spacing:-0.429px;">Board</span>
<span id="src2" class="t" style="left:137.02px;top:645.96px;font:normal 400 16px/23px 'Liberation Sans', sans-serif;color:#333;letter-spacing:0.058px;">of</span>
<span id="src3" class="t" style="left:155.32px;top:645.96px;font:normal 400 16px/23px 'Liberation Sans', sans-serif;color:#333;letter-spacing:-0.316px;">Governors</span>
<span id="src4" class="t" style="left:232.42px;top:645.96px;font:normal 400 16px/23px 'Liberation Sans', sans-serif;color:#333;letter-spacing:0.258px;">of</span>
<span id="src5" class="t" style="left:250.52px;top:645.96px;font:normal 400 16px/23px 'Liberation Sans', sans-serif;color:#333;letter-spacing:0.070px;">the</span>
<span id="src6" class="t" style="left:278.12px;top:645.96px;font:normal 400 16px/23px 'Liberation Sans', sans-serif;color:#333;letter-spacing:-0.484px;">Federal</span>
<span id="src7" class="t" style="left:334.22px;top:645.96px;font:normal 400 16px/23px 'Liberation Sans', sans-serif;color:#333;letter-spacing:-0.560px;">Reserve</span>
<span id="src8" class="t" style="left:394.52px;top:645.96px;font:normal 400 16px/23px 'Liberation Sans', sans-serif;color:#333;letter-spacing:-0.181px;">System</span>
<span id="src9" class="t" style="left:451.42px;top:645.96px;font:normal 400 16px/23px 'Liberation Sans', sans-serif;color:#333;letter-spacing:-0.733px;">(US)</span>
<span id="src10" class="t" style="left:486.02px;top:645.96px;font:normal 400 16px/23px 'Liberation Sans', sans-serif;color:#333;letter-spacing:-0.164px;">via</span>
<span id="src11" class="t" style="left:511.72px;top:645.96px;font:normal 400 16px/23px 'Liberation Sans', sans-serif;color:#333;letter-spacing:-1.157px;">FRED®</span>
</p>
<div id="shade" class="t" style="left:32.52px;top:668.96px;font:italic 400 16px/23px 'Liberation Sans', sans-serif;color:#0466cc;letter-spacing:-0.347px;">Shaded areas indicate U.S. recessions.</div>
<div id="site" class="t" style="left:1043.52px;top:676.96px;font:normal 400 16px/23px 'Liberation Sans', sans-serif;color:#444;letter-spacing:0.146px;">fred.stlouisfed.org</div>
<div id="fs" class="t" style="left:1204.52px;top:673.66px;font:normal 400 16px/23px 'Liberation Sans', sans-serif;color:#0466cc;letter-spacing:-0.155px;">Fullscreen</div>
<div id="fred" class="t" style="left:7.12px;top:183.58px;font:normal 700 29.5px/42px 'Liberation Sans', sans-serif;color:#1b1b1b;letter-spacing:-0.511px;-webkit-text-stroke:0.9px #1b1b1b;">FRED</div>
<div id="y0" class="t" style="left:104.28px;top:591.66px;font:normal 400 14px/20px 'DejaVu Sans Condensed', 'DejaVu Sans', sans-serif;color:#4a4a4a;letter-spacing:0.424px;">0</div>
<div id="y1" class="t" style="left:49.58px;top:549.99px;font:normal 400 14px/20px 'DejaVu Sans Condensed', 'DejaVu Sans', sans-serif;color:#4a4a4a;letter-spacing:-0.106px;">1,000,000</div>
<div id="y2" class="t" style="left:49.58px;top:509.32px;font:normal 400 14px/20px 'DejaVu Sans Condensed', 'DejaVu Sans', sans-serif;color:#4a4a4a;letter-spacing:-0.106px;">2,000,000</div>
<div id="y3" class="t" style="left:49.58px;top:466.66px;font:normal 400 14px/20px 'DejaVu Sans Condensed', 'DejaVu Sans', sans-serif;color:#4a4a4a;letter-spacing:-0.106px;">3,000,000</div>
<div id="y4" class="t" style="left:49.58px;top:424.99px;font:normal 400 14px/20px 'DejaVu Sans Condensed', 'DejaVu Sans', sans-serif;color:#4a4a4a;letter-spacing:-0.106px;">4,000,000</div>
<div id="y5" class="t" style="left:49.58px;top:384.32px;font:normal 400 14px/20px 'DejaVu Sans Condensed', 'DejaVu Sans', sans-serif;color:#4a4a4a;letter-spacing:-0.106px;">5,000,000</div>
<div id="y6" class="t" style="left:49.58px;top:341.66px;font:normal 400 14px/20px 'DejaVu Sans Condensed', 'DejaVu Sans', sans-serif;color:#4a4a4a;letter-spacing:-0.106px;">6,000,000</div>
<div id="y7" class="t" style="left:49.58px;top:299.99px;font:normal 400 14px/20px 'DejaVu Sans Condensed', 'DejaVu Sans', sans-serif;color:#4a4a4a;letter-spacing:-0.106px;">7,000,000</div>
<div id="y8" class="t" style="left:49.58px;top:259.32px;font:normal 400 14px/20px 'DejaVu Sans Condensed', 'DejaVu Sans', sans-serif;color:#4a4a4a;letter-spacing:-0.106px;">8,000,000</div>
<div id="y9" class="t" style="left:49.58px;top:216.66px;font:normal 400 14px/20px 'DejaVu Sans Condensed', 'DejaVu Sans', sans-serif;color:#4a4a4a;letter-spacing:-0.106px;">9,000,000</div>
<div id="x2004" class="t" style="left:164.88px;top:614.16px;font:normal 400 14px/20px 'DejaVu Sans Condensed', 'DejaVu Sans', sans-serif;color:#4a4a4a;letter-spacing:0.148px;">2004</div>
<div id="x2006" class="t" style="left:268.08px;top:614.16px;font:normal 400 14px/20px 'DejaVu Sans Condensed', 'DejaVu Sans', sans-serif;color:#4a4a4a;letter-spacing:0.148px;">2006</div>
<div id="x2008" class="t" style="left:371.13px;top:614.16px;font:normal 400 14px/20px 'DejaVu Sans Condensed', 'DejaVu Sans', sans-serif;color:#4a4a4a;letter-spacing:0.148px;">2008</div>
<div id="x2010" class="t" style="left:474.32px;top:614.16px;font:normal 400 14px/20px 'DejaVu Sans Condensed', 'DejaVu Sans', sans-serif;color:#4a4a4a;letter-spacing:0.148px;">2010</div>
<div id="x2012" class="t" style="left:577.38px;top:614.16px;font:normal 400 14px/20px 'DejaVu Sans Condensed', 'DejaVu Sans', sans-serif;color:#4a4a4a;letter-spacing:0.148px;">2012</div>
<div id="x2014" class="t" style="left:680.57px;top:614.16px;font:normal 400 14px/20px 'DejaVu Sans Condensed', 'DejaVu Sans', sans-serif;color:#4a4a4a;letter-spacing:0.148px;">2014</div>
<div id="x2016" class="t" style="left:783.62px;top:614.16px;font:normal 400 14px/20px 'DejaVu Sans Condensed', 'DejaVu Sans', sans-serif;color:#4a4a4a;letter-spacing:0.148px;">2016</div>
<div id="x2018" class="t" style="left:886.82px;top:614.16px;font:normal 400 14px/20px 'DejaVu Sans Condensed', 'DejaVu Sans', sans-serif;color:#4a4a4a;letter-spacing:0.148px;">2018</div>
<div id="x2020" class="t" style="left:989.87px;top:614.16px;font:normal 400 14px/20px 'DejaVu Sans Condensed', 'DejaVu Sans', sans-serif;color:#4a4a4a;letter-spacing:0.148px;">2020</div>
<div id="x2022" class="t" style="left:1093.06px;top:614.16px;font:normal 400 14px/20px 'DejaVu Sans Condensed', 'DejaVu Sans', sans-serif;color:#4a4a4a;letter-spacing:0.148px;">2022</div>
<div id="x2024" class="t" style="left:1196.11px;top:614.16px;font:normal 400 14px/20px 'DejaVu Sans Condensed', 'DejaVu Sans', sans-serif;color:#4a4a4a;letter-spacing:0.148px;">2024</div>
</body></html>
